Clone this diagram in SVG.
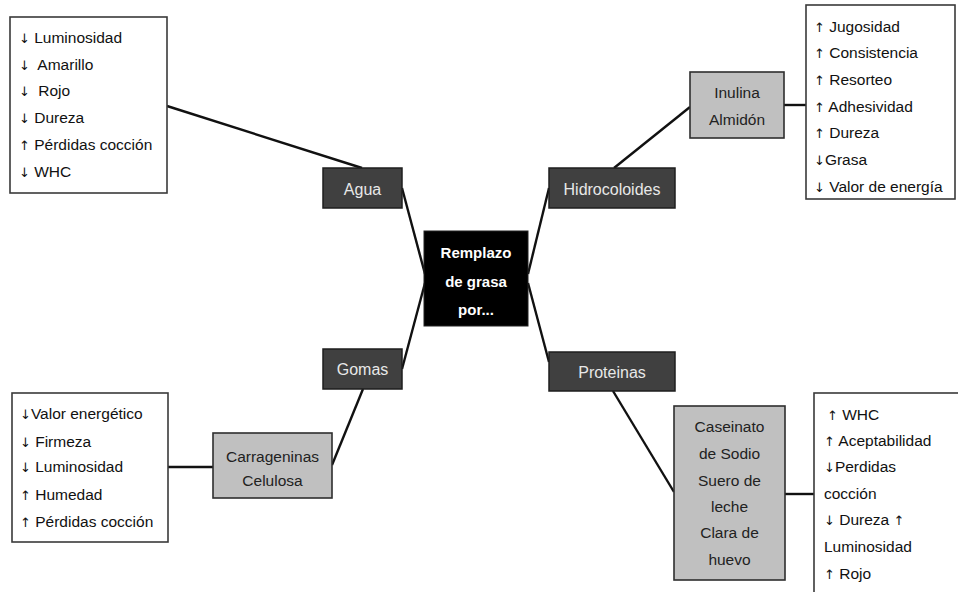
<svg xmlns="http://www.w3.org/2000/svg" width="958" height="592" viewBox="0 0 958 592">
<style>
.bg{fill:#ffffff}
.list{fill:#ffffff;stroke:#3a3a3a;stroke-width:1.6}
.dark{fill:#404040;stroke:#1e1e1e;stroke-width:1.5}
.light{fill:#c0c0c0;stroke:#2e2e2e;stroke-width:1.6}
.center{fill:#000000;stroke:#222;stroke-width:1}
.t{font-family:"Liberation Sans",Arial,sans-serif;font-size:15.5px;fill:#111}
.a{font-family:"DejaVu Sans",sans-serif;font-size:13px;fill:#111}
.tw{font-family:"Liberation Sans",Arial,sans-serif;font-size:16px;fill:#e8e8e8;text-anchor:middle}
.tc{font-family:"Liberation Sans",Arial,sans-serif;font-size:15px;font-weight:bold;fill:#ffffff;text-anchor:middle}
.tl{font-family:"Liberation Sans",Arial,sans-serif;font-size:15.5px;fill:#222;text-anchor:middle}
.ln{stroke:#111;stroke-width:2.4;fill:none}
</style>
<rect class="bg" x="0" y="0" width="958" height="592"/>
<g id="connectors">
<line class="ln" x1="167" y1="106" x2="362" y2="168"/>
<line class="ln" x1="402" y1="188" x2="425" y2="274"/>
<line class="ln" x1="402" y1="369" x2="425" y2="283"/>
<line class="ln" x1="549" y1="188" x2="528" y2="274"/>
<line class="ln" x1="549" y1="362" x2="528" y2="283"/>
<line class="ln" x1="614" y1="168" x2="690" y2="107"/>
<line class="ln" x1="784" y1="105" x2="806" y2="105"/>
<line class="ln" x1="363" y1="389" x2="332" y2="465"/>
<line class="ln" x1="213" y1="467" x2="168" y2="467"/>
<line class="ln" x1="613" y1="391" x2="674" y2="492"/>
<line class="ln" x1="785" y1="494" x2="814" y2="494"/>
</g>
<g id="center">
<rect class="center" x="424" y="231" width="104" height="95"/>
<text class="tc" x="476" y="258">Remplazo</text>
<text class="tc" x="476" y="287">de grasa</text>
<text class="tc" x="476" y="315">por...</text>
</g>
<g id="agua">
<rect class="dark" x="323" y="168" width="79" height="40"/>
<text class="tw" x="362.5" y="195">Agua</text>
</g>
<g id="hidrocoloides">
<rect class="dark" x="549" y="168" width="126" height="40"/>
<text class="tw" x="612" y="195">Hidrocoloides</text>
</g>
<g id="gomas">
<rect class="dark" x="323" y="349" width="79" height="40"/>
<text class="tw" x="362.5" y="375">Gomas</text>
</g>
<g id="proteinas">
<rect class="dark" x="549" y="352" width="126" height="39"/>
<text class="tw" x="612" y="378">Proteinas</text>
</g>
<g id="agua-efectos">
<rect class="list" x="10" y="17" width="157" height="176"/>
<text class="t" x="19" y="43"><tspan class="a">↓</tspan> Luminosidad</text>
<text class="t" x="19" y="70"><tspan class="a">↓</tspan> <tspan dx="4">Amarillo</tspan></text>
<text class="t" x="19" y="96"><tspan class="a">↓</tspan> <tspan dx="4">Rojo</tspan></text>
<text class="t" x="19" y="123"><tspan class="a">↓</tspan> Dureza</text>
<text class="t" x="19" y="150"><tspan class="a">↑</tspan> Pérdidas cocción</text>
<text class="t" x="19" y="177"><tspan class="a">↓</tspan> WHC</text>
</g>
<g id="inulina">
<rect class="light" x="690" y="72" width="94" height="66"/>
<text class="tl" x="737" y="98">Inulina</text>
<text class="tl" x="737" y="125">Almidón</text>
</g>
<g id="hidrocoloides-efectos">
<rect class="list" x="806" y="5" width="149" height="194"/>
<text class="t" x="814" y="32"><tspan class="a">↑</tspan> Jugosidad</text>
<text class="t" x="814" y="58"><tspan class="a">↑</tspan> Consistencia</text>
<text class="t" x="814" y="85"><tspan class="a">↑</tspan> Resorteo</text>
<text class="t" x="814" y="112"><tspan class="a">↑</tspan> Adhesividad</text>
<text class="t" x="814" y="138"><tspan class="a">↑</tspan> Dureza</text>
<text class="t" x="814" y="165"><tspan class="a">↓</tspan>Grasa</text>
<text class="t" x="814" y="192"><tspan class="a">↓</tspan> Valor de energía</text>
</g>
<g id="carrageninas">
<rect class="light" x="213" y="433" width="119" height="65"/>
<text class="tl" x="272.5" y="462">Carrageninas</text>
<text class="tl" x="272.5" y="486">Celulosa</text>
</g>
<g id="gomas-efectos">
<rect class="list" x="12" y="393" width="156" height="149"/>
<text class="t" x="20" y="419"><tspan class="a">↓</tspan>Valor energético</text>
<text class="t" x="20" y="447"><tspan class="a">↓</tspan> Firmeza</text>
<text class="t" x="20" y="472"><tspan class="a">↓</tspan> Luminosidad</text>
<text class="t" x="20" y="500"><tspan class="a">↑</tspan> Humedad</text>
<text class="t" x="20" y="527"><tspan class="a">↑</tspan> Pérdidas cocción</text>
</g>
<g id="caseinato">
<rect class="light" x="674" y="406" width="111" height="174"/>
<text class="tl" x="729.5" y="432">Caseinato</text>
<text class="tl" x="729.5" y="459">de Sodio</text>
<text class="tl" x="729.5" y="486">Suero de</text>
<text class="tl" x="729.5" y="512">leche</text>
<text class="tl" x="729.5" y="538">Clara de</text>
<text class="tl" x="729.5" y="565">huevo</text>
</g>
<g id="proteinas-efectos">
<rect class="list" x="814" y="393" width="170" height="230"/>
<text class="t" x="827" y="420"><tspan class="a">↑</tspan> WHC</text>
<text class="t" x="824" y="446"><tspan class="a">↑</tspan> Aceptabilidad</text>
<text class="t" x="824" y="472"><tspan class="a">↓</tspan>Perdidas</text>
<text class="t" x="824" y="499">cocción</text>
<text class="t" x="824" y="525"><tspan class="a">↓</tspan> Dureza <tspan class="a">↑</tspan></text>
<text class="t" x="824" y="552">Luminosidad</text>
<text class="t" x="824" y="579"><tspan class="a">↑</tspan> Rojo</text>
</g>
</svg>
